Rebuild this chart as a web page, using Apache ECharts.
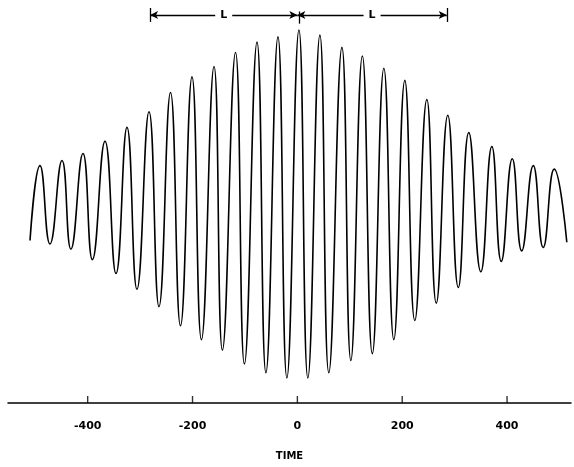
<!DOCTYPE html>
<html>
<head>
<meta charset="utf-8">
<script src="https://cdn.jsdelivr.net/npm/echarts@6/dist/echarts.min.js"></script>
<style>
  html, body { margin: 0; padding: 0; background: #fff; }
  #chart { width: 574px; height: 467px; }
</style>
</head>
<body>
<div id="chart"></div>
<script>
// wave crests (time, amplitude)
const peakTimes = [-491, -449, -409, -367, -325, -283, -242, -201, -159, -118, -77, -37,
  3, 43, 85, 124, 165, 205, 247, 287, 327, 371, 410, 450, 490];
const peakValues = [0.22, 0.25, 0.29, 0.36, 0.44, 0.53, 0.64, 0.73, 0.79, 0.87, 0.93, 0.96,
  1.0, 0.97, 0.90, 0.85, 0.78, 0.71, 0.60, 0.51, 0.41, 0.33, 0.26, 0.22, 0.20];
// troughs
const troughTimes = [-472, -432, -391, -346, -306, -264, -223, -183, -143, -101, -60, -20,
  20, 60, 102, 143, 184, 224, 265, 307, 350, 389, 428, 469];
const troughValues = [-0.23, -0.26, -0.32, -0.40, -0.49, -0.59, -0.70, -0.78, -0.84, -0.92, -0.97, -1.0,
  -1.0, -0.97, -0.90, -0.86, -0.78, -0.67, -0.57, -0.48, -0.39, -0.33, -0.27, -0.25];
// ends of the trace
const endTimes = [-510, 514];
const endValues = [-0.21, -0.22];

const tickValues = [-400, -200, 0, 200, 400];
// "L" bracket: left end, centre, right end
const bracketTimes = [-281, 0, 285];
const bracketLevel = 1.086;

const yMin = -1.144;
const yMax = 1.172;

const points = [];
peakTimes.forEach((t, i) => points.push([t, peakValues[i]]));
troughTimes.forEach((t, i) => points.push([t, troughValues[i]]));
endTimes.forEach((t, i) => points.push([t, endValues[i]]));
points.sort((a, b) => a[0] - b[0]);

const chart = echarts.init(document.getElementById("chart"));

const lineStyleBlack = { color: "#000", width: 1.3, type: "solid" };

chart.setOption({
  animation: false,
  grid: { left: 8, right: 3, top: 0, bottom: 64 },
  xAxis: {
    type: "value",
    min: -552,
    max: 522,
    name: "TIME",
    nameLocation: "middle",
    nameGap: 48,
    nameTextStyle: { color: "#000", fontSize: 10, fontFamily: "DejaVu Sans", fontWeight: "bold" },
    axisLine: { onZero: false, lineStyle: { color: "#000", width: 1.5 } },
    axisTick: { show: false },
    axisLabel: {
      customValues: tickValues,
      margin: 18,
      color: "#000",
      fontSize: 11,
      fontFamily: "DejaVu Sans",
      fontWeight: "bold",
    },
    splitLine: { show: false },
  },
  yAxis: {
    type: "value",
    min: yMin,
    max: yMax,
    show: false,
  },
  series: [
    {
      type: "line",
      data: points,
      smooth: 0.5,
      symbol: "none",
      lineStyle: { color: "#000", width: 1.6 },
      markLine: {
        silent: true,
        symbol: ["arrow", "arrow"],
        symbolSize: [6, 8],
        lineStyle: lineStyleBlack,
        label: {
          show: true,
          position: "insideMiddle",
          formatter: "L",
          color: "#000",
          fontSize: 11,
          fontWeight: "bold",
          fontFamily: "DejaVu Sans",
          backgroundColor: "#fff",
          padding: [0, 5],
        },
        data: [
          [{ coord: [bracketTimes[0], bracketLevel] }, { coord: [bracketTimes[1], bracketLevel] }],
          [{ coord: [bracketTimes[1], bracketLevel] }, { coord: [bracketTimes[2], bracketLevel] }],
          [
            { coord: [bracketTimes[0], bracketLevel - 0.04], symbol: "none", label: { show: false } },
            { coord: [bracketTimes[0], bracketLevel + 0.04], symbol: "none" },
          ],
          [
            { coord: [bracketTimes[2], bracketLevel - 0.04], symbol: "none", label: { show: false } },
            { coord: [bracketTimes[2], bracketLevel + 0.04], symbol: "none" },
          ],
          [
            { coord: [bracketTimes[1] + 3, bracketLevel - 0.05], symbol: "none", label: { show: false } },
            { coord: [bracketTimes[1] + 3, bracketLevel + 0.02], symbol: "none" },
          ],
        ],
      },
    },
    {
      // small upward ticks sitting on the time axis
      type: "scatter",
      silent: true,
      clip: false,
      data: tickValues.map((t) => [t, yMin]),
      symbol: "rect",
      symbolSize: [1.4, 7],
      symbolOffset: [0, -3.5],
      itemStyle: { color: "#000" },
      z: 5,
    },
  ],
});
</script>
</body>
</html>
